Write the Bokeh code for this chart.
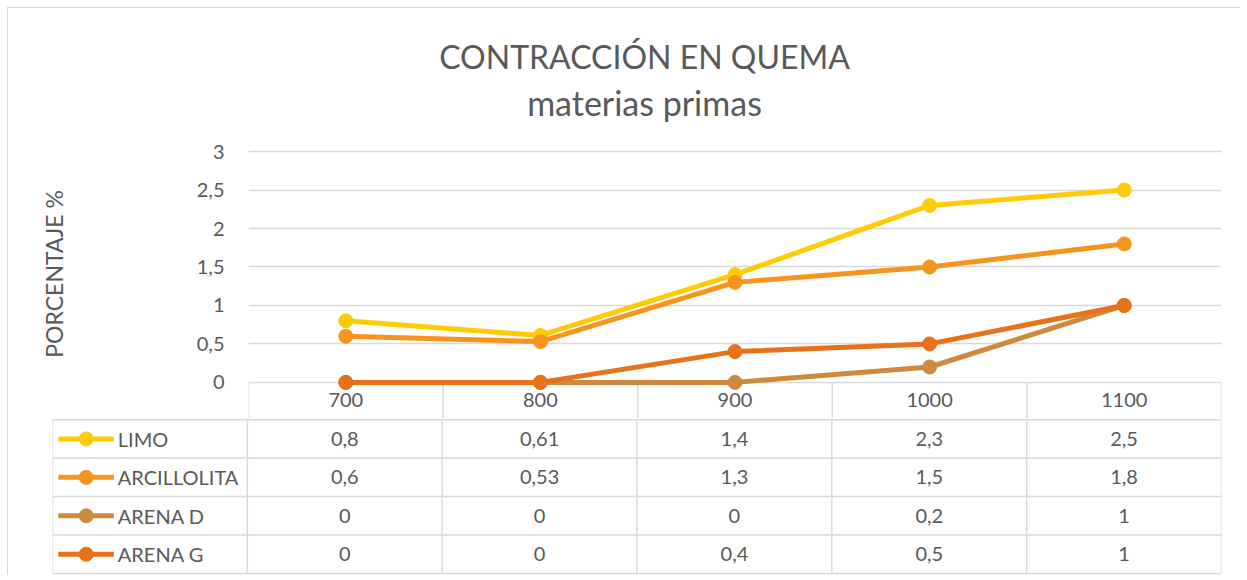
from bokeh.plotting import figure
from bokeh.models import (FactorRange, Range1d, FixedTicker, CustomJSTickFormatter,
                          ColumnDataSource)
from bokeh.layouts import column, row
from bokeh.core.properties import value
from bokeh.embed import file_html
from bokeh.resources import INLINE

# ---- data ----
categories = ["700", "800", "900", "1000", "1100"]
series_names = ["LIMO", "ARCILLOLITA", "ARENA D", "ARENA G"]
limo = [0.8, 0.61, 1.4, 2.3, 2.5]
arcillolita = [0.6, 0.53, 1.3, 1.5, 1.8]
arena_d = [0, 0, 0, 0.2, 1]
arena_g = [0, 0, 0.4, 0.5, 1]
y_ticks = [0, 0.5, 1, 1.5, 2, 2.5, 3]
title_text = "CONTRACCIÓN EN QUEMA"
subtitle_text = "materias primas"
y_label = "PORCENTAJE  %"

series_values = [limo, arcillolita, arena_d, arena_g]
colors = ["#FFCB05", "#F7941D", "#CD8A3C", "#E8711A"]

FONT = "Lato"
TXT = "#595959"
GRID = "#d9d9d9"
W = 1232


def fmt(v):
    return f"{v:g}".replace(".", ",")


nc = len(categories)
PX_PER_UNIT = 230 / 3.0          # chart: 0..3 spans 230 px
HEADER = 36 / PX_PER_UNIT        # header row height in chart units

# ---- title block ----
TH = 115
tf = figure(width=W, height=TH, x_range=Range1d(0, W), y_range=Range1d(TH, 0),
            output_backend="svg", toolbar_location=None,
            min_border_left=0, min_border_right=0, min_border_top=0, min_border_bottom=0)
tf.axis.visible = False
tf.grid.visible = False
tf.outline_line_color = None
tf.text(x=[636], y=[48], text=[title_text], text_align="center", text_baseline="alphabetic",
        text_font=value(FONT), text_font_size="32px", text_color=TXT)
tf.text(x=[636], y=[94], text=[subtitle_text], text_align="center", text_baseline="alphabetic",
        text_font=value(FONT), text_font_size="34px", text_color=TXT)

# ---- chart (with header row of the data table) ----
p = figure(width=W, height=295, x_range=FactorRange(*categories),
           y_range=Range1d(-HEADER, 3 + 28 / PX_PER_UNIT),
           output_backend="svg", toolbar_location=None,
           min_border_left=240, min_border_right=19, min_border_top=0, min_border_bottom=0)
p.xaxis.visible = False
p.xgrid.visible = False
p.ygrid.ticker = FixedTicker(ticks=y_ticks)
p.ygrid.grid_line_color = GRID
p.ygrid.grid_line_width = 1.5
p.yaxis.ticker = FixedTicker(ticks=y_ticks)
p.yaxis.formatter = CustomJSTickFormatter(code="return String(tick).replace('.', ',');")
p.yaxis.axis_line_color = None
p.yaxis.major_tick_line_color = None
p.yaxis.minor_tick_line_color = None
p.yaxis.major_label_standoff = 18
p.yaxis.major_label_text_font = FONT
p.yaxis.major_label_text_font_size = "20px"
p.yaxis.major_label_text_color = TXT
p.yaxis.axis_label = y_label
p.yaxis.axis_label_text_font = FONT
p.yaxis.axis_label_text_font_size = "23px"
p.yaxis.axis_label_text_font_style = "normal"
p.yaxis.axis_label_text_color = TXT
p.yaxis.axis_label_standoff = 126
p.outline_line_color = None

# header row: vertical separators and category labels
bx = list(range(nc + 1))
p.segment(x0=bx, y0=[-HEADER] * len(bx), x1=bx, y1=[0] * len(bx),
          line_color=GRID, line_width=1.5)
p.text(x=categories, y=[-HEADER / 2] * nc, text=categories, text_align="center",
       text_baseline="middle", text_font=value(FONT), text_font_size="20px", text_color=TXT)

for name, vals, c in zip(series_names, series_values, colors):
    src = ColumnDataSource(dict(x=categories, y=vals))
    p.line("x", "y", source=src, line_color=c, line_width=5)
    p.scatter("x", "y", source=src, size=14, fill_color=c, line_color=c)

# ---- data table rows ----
nr = len(series_names)
t = figure(width=W, height=157, x_range=Range1d(-1, nc),
           y_range=Range1d(nr + 2 / 38.5, -1.15 / 38.5),
           output_backend="svg", toolbar_location=None,
           min_border_left=44, min_border_right=19, min_border_top=0, min_border_bottom=0)
t.axis.visible = False
t.grid.visible = False
t.outline_line_color = None

# vertical borders
vx = list(range(-1, nc + 1))
t.segment(x0=vx, y0=[0] * len(vx), x1=vx, y1=[nr] * len(vx), line_color=GRID, line_width=1.5)
# horizontal borders
hy = list(range(0, nr + 1))
t.segment(x0=[-1] * len(hy), y0=hy, x1=[nc] * len(hy), y1=hy, line_color=GRID, line_width=1.5)

# values
xs, ys, txt = [], [], []
for r, vals in enumerate(series_values):
    for i, v in enumerate(vals):
        xs.append(i + 0.5)
        ys.append(r + 0.5)
        txt.append(fmt(v))
t.text(x=xs, y=ys, text=txt, text_align="center", text_baseline="middle",
       text_font=value(FONT), text_font_size="20px", text_color=TXT)

# legend keys
for r, (name, c) in enumerate(zip(series_names, colors)):
    yy = r + 0.5
    t.segment(x0=[-0.97], y0=[yy], x1=[-0.685], y1=[yy], line_color=c, line_width=5)
    t.scatter(x=[-0.827], y=[yy], size=14, fill_color=c, line_color=c)
t.text(x=[-0.665] * nr, y=[r + 0.5 for r in range(nr)],
       text=series_names, text_align="left", text_baseline="middle",
       text_font=value(FONT), text_font_size="20px", text_color=TXT)

layout = column(row(tf), p, row(t), spacing=0,
                styles={"border-left": "1px solid #d9d9d9", "border-top": "1px solid #d9d9d9",
                        "margin-left": "7px", "margin-top": "7px"})

open("out.html", "w").write(file_html(layout, INLINE))
